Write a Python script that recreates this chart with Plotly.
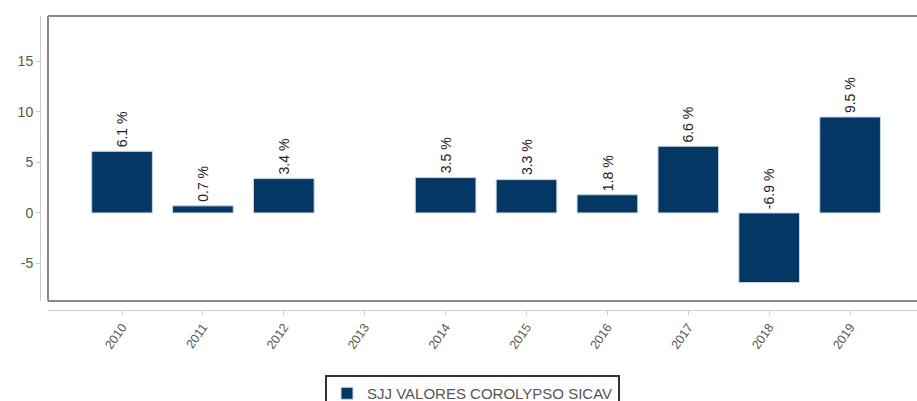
import plotly.graph_objects as go

# Annual returns (%) of the fund, one bar per year; 2013 has no figure
years = ["2010", "2011", "2012", "2013", "2014", "2015", "2016", "2017", "2018", "2019"]
returns = [6.1, 0.7, 3.4, None, 3.5, 3.3, 1.8, 6.6, -6.9, 9.5]
series_name = "SJJ VALORES COROLYPSO SICAV"
y_ticks = [-5, 0, 5, 10, 15]
y_tick_labels = ["-5", "0", "5", "10", "15"]

BAR_COLOR = "#053764"
FONT = "Liberation Sans, Arial, sans-serif"

W, H = 917, 401
ML, MR, MT, MB = 40, 0, 16, 91
paper_w = W - ML - MR
paper_h = H - MT - MB

fig = go.Figure()
fig.add_trace(go.Bar(
    x=years,
    y=returns,
    name=series_name,
    width=0.75,
    marker=dict(color=BAR_COLOR, line=dict(color="#c9d6e3", width=1)),
    hoverinfo="skip",
))

# value labels, sitting above the bar (or above the zero line for losses)
for i, (yr, v) in enumerate(zip(years, returns)):
    if v is None:
        continue
    fig.add_annotation(
        x=i, y=max(v, 0.0), xref="x", yref="y",
        text=f"{v} %", textangle=-90,
        showarrow=False, yanchor="bottom", xanchor="center",
        yshift=2,
        font=dict(family=FONT, size=14, color="#222222"),
    )

# frame around the plotting area (open on the right)
frame = dict(color="#8a8a8a", width=2)
fig.add_shape(type="line", xref="x domain", yref="y domain", x0=0, x1=0, y0=0, y1=1, line=frame)
fig.add_shape(type="line", xref="x domain", yref="y domain", x0=0, x1=1, y0=1, y1=1, line=frame)
fig.add_shape(type="line", xref="x domain", yref="y domain", x0=0, x1=1, y0=0, y1=0, line=frame)

fig.update_layout(
    width=W, height=H,
    margin=dict(l=ML, r=MR, t=MT, b=MB, pad=0, autoexpand=False),
    paper_bgcolor="white", plot_bgcolor="white",
    font=dict(family=FONT, color="#555555"),
    bargap=0.25,
    xaxis=dict(
        type="category",
        categoryorder="array", categoryarray=years,
        domain=[8 / paper_w, 1],
        range=[-0.915, 9.827],
        anchor="free", position=0,
        showline=True, linecolor="#cccccc", linewidth=1,
        ticks="outside", ticklen=4, tickcolor="#cccccc",
        tickangle=-55,
        tickfont=dict(family=FONT, size=12.5, color="#555555"),
        showgrid=False, zeroline=False,
        automargin=False,
    ),
    yaxis=dict(
        domain=[9 / paper_h, 1],
        range=[-8.72, 19.5],
        anchor="free", position=0,
        tickmode="array", tickvals=y_ticks, ticktext=y_tick_labels,
        showline=True, linecolor="#cccccc", linewidth=1,
        ticks="outside", ticklen=4, tickcolor="#cccccc",
        tickfont=dict(family=FONT, size=14, color="#555555"),
        showgrid=False, zeroline=False,
        automargin=False,
    ),
    showlegend=True,
    legend=dict(
        orientation="h",
        x=(325 - ML) / paper_w, xanchor="left",
        y=-(375 - (H - MB)) / paper_h, yanchor="top",
        bordercolor="#333333", borderwidth=2,
        font=dict(family=FONT, size=15, color="#555555"),
    ),
)

fig.write_html("out.html")
